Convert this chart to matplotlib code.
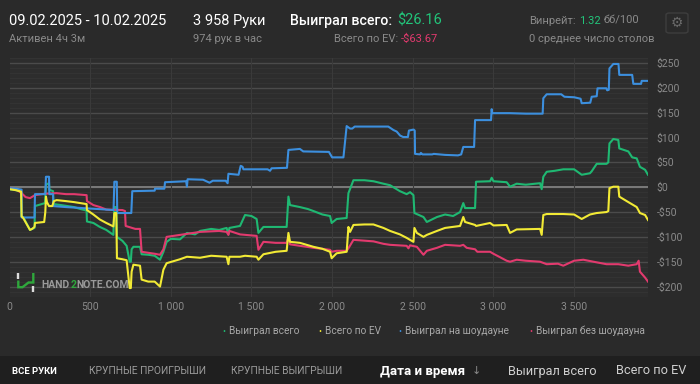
import matplotlib
matplotlib.use("Agg")
from matplotlib import pyplot as plt
from matplotlib.patches import Rectangle, FancyBboxPatch
from matplotlib.lines import Line2D

plt.rcParams['font.family'] = ['Roboto', 'DejaVu Sans']

# --- data (hand number, $) ---
blue_x = [0, 40, 75, 75, 155, 158, 222, 226, 245, 247, 270, 272, 350, 450, 550, 645, 650, 665, 668, 755,
          761, 900, 902, 960, 964, 1095, 1100, 1104, 1200, 1240, 1260, 1340, 1352, 1357, 1420, 1433, 1445, 1450,
          1600, 1615, 1625, 1720, 1729, 1800, 1821, 1980, 2000, 2070, 2090, 2111, 2125, 2140, 2348, 2380, 2400,
          2421, 2440, 2470, 2476, 2505, 2512, 2514, 2545, 2550, 2560, 2620, 2630, 2700, 2780, 2800, 2813, 2880,
          2886, 2985, 2989, 2992, 3100, 3200, 3305, 3309, 3330, 3420, 3440, 3500, 3540, 3547, 3600, 3609, 3640,
          3645, 3700, 3705, 3715, 3719, 3743, 3775, 3780, 3860, 3867, 3915, 3919, 3958]
blue_y = [-2, -3, -5, -61, -61, -14, -14, 21, 21, -14, -14, -38, -40, -42, -44, -46, 11, 11, -52, -52,
          -8, -7, -3, -3, 10, 12, 1, 16, 15, 9, 13, 13, 8, 27, 25, 43, 41, 36,
          36, 33, 38, 39, 75, 77, 72, 71, 60, 60, 123, 118, 118, 122, 122, 115, 112,
          104, 101, 101, 114, 116, 114, 67, 66, 69, 66, 66, 67, 65, 64, 66, 81, 81,
          135, 135, 157, 149, 149, 148, 148, 179, 187, 187, 182, 181, 178, 169, 170, 182, 183,
          199, 199, 195, 196, 239, 248, 248, 226, 226, 208, 208, 214, 214]

green_x = [0, 40, 72, 75, 85, 127, 140, 155, 158, 220, 226, 245, 247, 270, 272, 320, 360, 400, 440, 478,
           480, 520, 560, 600, 644, 650, 662, 666, 700, 726, 745, 752, 757, 768, 809, 819, 860, 900, 933, 954,
           974, 1000, 1057, 1100, 1150, 1181, 1250, 1300, 1346, 1357, 1363, 1429, 1460, 1500, 1532, 1543, 1574,
           1650, 1718, 1729, 1739, 1800, 1850, 1884, 1940, 1987, 1997, 2028, 2090, 2101, 2132, 2200, 2256, 2318,
           2359, 2420, 2462, 2483, 2504, 2510, 2566, 2587, 2650, 2700, 2750, 2793, 2813, 2824, 2886, 2892, 2979,
           2989, 3000, 3082, 3103, 3144, 3200, 3289, 3299, 3309, 3330, 3380, 3433, 3500, 3547, 3598, 3609, 3640,
           3701, 3712, 3719, 3743, 3774, 3780, 3836, 3860, 3888, 3908, 3940, 3958]
green_y = [-4, -6, -9, -59, -60, -86, -84, -82, -38, -32, 5, 8, -5, -8, -34, -36, -38, -40, -44, -47,
           -69, -72, -80, -86, -96, -40, -40, -100, -108, -118, -150, -150, -125, -120, -120, -135, -136, -138, -146, -130,
           -110, -104, -105, -92, -95, -88, -84, -86, -82, -95, -82, -78, -56, -58, -64, -92, -80,
           -80, -80, -19, -36, -40, -44, -48, -55, -58, -72, -64, -62, -12, 14, 14, 12, 7,
           4, -8, -14, -10, -16, -52, -60, -70, -60, -55, -58, -50, -32, -42, -42, 11, 12,
           19, 12, 10, 1, 7, 5, 8, -4, 21, 31, 33, 36, 36, 25, 28, 32, 47,
           47, 50, 88, 97, 95, 78, 72, 60, 58, 41, 35, 25]

yellow_x = [0, 40, 72, 75, 85, 127, 140, 155, 158, 215, 222, 226, 232, 245, 265, 275, 292, 350, 400, 478,
            480, 520, 560, 600, 644, 650, 662, 666, 700, 726, 745, 752, 757, 768, 809, 819, 860, 900, 933, 954,
            974, 1057, 1100, 1181, 1250, 1346, 1357, 1363, 1429, 1460, 1532, 1543, 1574, 1650, 1718, 1729, 1739,
            1800, 1884, 1940, 1987, 1997, 2028, 2090, 2101, 2111, 2132, 2200, 2256, 2318, 2359, 2420, 2462, 2483,
            2504, 2510, 2525, 2566, 2587, 2650, 2700, 2793, 2813, 2824, 2886, 2892, 2979, 3000, 3082, 3103, 3144,
            3289, 3299, 3309, 3330, 3433, 3500, 3547, 3598, 3640, 3701, 3712, 3719, 3743, 3774, 3780, 3836, 3888,
            3908, 3940, 3958]
yellow_y = [-4, -6, -9, -59, -62, -86, -84, -80, -72, -70, -50, -19, -30, -38, -38, -28, -26, -28, -30, -34,
            -46, -55, -65, -72, -79, -52, -52, -143, -145, -147, -203, -203, -170, -156, -158, -186, -190, -190, -200, -166,
            -153, -145, -140, -142, -138, -140, -155, -140, -140, -138, -140, -146, -135, -130, -128, -92, -110,
            -112, -120, -124, -130, -143, -133, -130, -80, -90, -76, -75, -75, -82, -88, -95, -102, -106,
            -110, -82, -92, -100, -96, -88, -82, -78, -60, -70, -76, -78, -72, -77, -76, -92, -85,
            -84, -96, -56, -54, -54, -55, -64, -55, -52, -50, -48, -2, 1, 1, -19, -30, -40,
            -52, -56, -66]

red_x = [0, 40, 75, 100, 127, 158, 222, 292, 350, 400, 478, 480, 520, 561, 600, 700, 716, 720, 780, 809,
         819, 900, 933, 954, 974, 1057, 1181, 1300, 1346, 1357, 1363, 1429, 1532, 1543, 1574, 1650, 1718, 1729,
         1739, 1800, 1884, 1987, 1997, 2028, 2090, 2101, 2132, 2256, 2318, 2359, 2462, 2473, 2483, 2525, 2566,
         2587, 2650, 2700, 2793, 2813, 2834, 2886, 2900, 2979, 3000, 3082, 3103, 3144, 3200, 3289, 3330, 3400,
         3433, 3500, 3557, 3620, 3701, 3774, 3836, 3888, 3900, 3908, 3940, 3958]
red_y = [-2, -4, -12, -20, -22, -16, -13, -12, -14, -14, -16, -28, -36, -40, -45, -46, -48, -78, -84, -84,
         -130, -134, -136, -125, -100, -96, -90, -88, -90, -96, -88, -95, -98, -126, -110, -112, -112, -100,
         -115, -118, -122, -126, -130, -128, -128, -123, -106, -109, -114, -116, -118, -123, -117, -120, -136,
         -128, -122, -116, -118, -116, -122, -125, -130, -130, -134, -148, -150, -146, -148, -150, -155, -154,
         -158, -148, -146, -150, -155, -155, -158, -155, -148, -170, -182, -190]

series_names = ["Выиграл всего", "Всего по EV", "Выиграл на шоудауне", "Выиграл без шоудауна"]
series_colors = ["#1fb872", "#f2ea35", "#3c8fde", "#e23a6e"]

x_ticks = [0, 500, 1000, 1500, 2000, 2500, 3000, 3500]
y_ticks = [-200, -150, -100, -50, 0, 50, 100, 150, 200, 250]

W, H = 700, 384
fig = plt.figure(figsize=(7, 3.84), dpi=100, facecolor="#2a2a2a")


def px(x, y):
    return x / W, 1 - y / H


def fig_line(xs, ys, color):
    fig.lines.append(Line2D([x / W for x in xs], [1 - y / H for y in ys],
                            transform=fig.transFigure, color=color, lw=1.7,
                            solid_capstyle="butt", solid_joinstyle="miter"))


# bottom tab bar
fig.patches.append(Rectangle((0, 0), 1, 1 - 356 / H, transform=fig.transFigure,
                             facecolor="#1f1f1f", edgecolor="none", zorder=0))

ax = fig.add_axes([9.5 / W, 1 - 297 / H, (648 - 9.5) / W, (297 - 58) / H])
ax.set_facecolor("#2d2d2d")
for s in ax.spines.values():
    s.set_visible(False)

ax.set_xlim(0, 3958)
ax.set_ylim(-221, 260)

# grid
for v in range(-220, 261, 10):
    ax.axhline(v, color="#353535", lw=0.6, zorder=1)
for v in y_ticks:
    ax.axhline(v, color="#4b4b4b", lw=1.0, zorder=1)
ax.axhline(0, color="#7a7a7a", lw=1.4, zorder=1)
for v in x_ticks[1:]:
    ax.axvline(v, color="#3a3a3a", lw=0.8, zorder=1)

ax.plot(green_x, green_y, color=series_colors[0], lw=1.5, zorder=3)
ax.plot(red_x, red_y, color=series_colors[3], lw=1.5, zorder=3)
ax.plot(yellow_x, yellow_y, color=series_colors[1], lw=1.5, zorder=4)
ax.plot(blue_x, blue_y, color=series_colors[2], lw=1.5, zorder=3)

ax.yaxis.tick_right()
ax.set_yticks(y_ticks)
ax.set_yticklabels([("-$%d" % -v) if v < 0 else ("$%d" % v) for v in y_ticks])
ax.set_xticks(x_ticks)
ax.set_xticklabels([f"{v:,}".replace(",", " ") for v in x_ticks])
ax.tick_params(axis="both", length=0, colors="#8a8a8a", labelsize=7.5)
ax.tick_params(axis="y", pad=6)
ax.tick_params(axis="x", pad=3.5)

# watermark logo + text
fig_line([18.3, 18.3], [273, 278.5], "#dddddd")
fig_line([33.3, 33.3], [286, 292], "#dddddd")
fig_line([18.3, 18.3, 22.5, 28.5, 33.3, 33.3], [280.5, 287.2, 287.2, 282.5, 282.5, 273], "#2fa83c")
fig.text(*px(41, 285), "HAND", color="#9a9a9a", fontsize=7.5, fontweight="bold", va="center")
fig.text(*px(70.5, 285), "2", color="#2fa83c", fontsize=7.5, fontweight="bold", va="center")
fig.text(*px(76, 285), "NOTE.COM", color="#9a9a9a", fontsize=7.5, fontweight="bold", va="center")

# legend
leg_x = [222, 318, 398, 529]
for lxp, name, c in zip(leg_x, series_names, series_colors):
    fig.text(*px(lxp, 331), "•", color=c, fontsize=6.5, va="center", ha="left")
    fig.text(*px(lxp + 7, 331), name, color="#a8a8a8", fontsize=7.3, va="center", ha="left")

# header
fig.text(*px(9, 21), "09.02.2025 - 10.02.2025", color="#ffffff", fontsize=10.5, va="center")
fig.text(*px(9, 38.5), "Активен 4ч 3м", color="#8a8a8a", fontsize=8, va="center")
fig.text(*px(193, 21), "3 958 Руки", color="#ffffff", fontsize=10.5, va="center")
fig.text(*px(193, 38.5), "974 рук в час", color="#8a8a8a", fontsize=8, va="center")
fig.text(*px(290, 21), "Выиграл всего:", color="#ffffff", fontsize=10.2, fontweight="medium", va="center")
fig.text(*px(397, 21), "$26.16", color="#22c47a", fontsize=10.5, va="center")
fig.text(*px(334, 38.5), "Всего по EV:", color="#8a8a8a", fontsize=8, va="center")
fig.text(*px(401, 38.5), "-$63.67", color="#e23a6e", fontsize=8, va="center")
fig.text(*px(529, 21), "Винрейт:", color="#8a8a8a", fontsize=8, va="center")
fig.text(*px(579, 21), "1.32", color="#22c47a", fontsize=8, va="center")
fig.text(*px(603, 21), "бб/100", color="#8a8a8a", fontsize=8, va="center")
fig.text(*px(529, 38.5), "0 среднее число столов", color="#8a8a8a", fontsize=8, va="center")
fig.patches.append(FancyBboxPatch((666 / W, 1 - 33 / H), 22 / W, 20 / H,
                                  boxstyle="round,pad=0,rounding_size=0.005",
                                  transform=fig.transFigure, facecolor="none",
                                  edgecolor="#3e3e3e", lw=1.0))
fig.text(*px(677, 23), "⚙", color="#6a6a6a", fontsize=10, ha="center", va="center", family="DejaVu Sans")

# tab bar
fig.text(*px(12, 371), "ВСЕ РУКИ", color="#ffffff", fontsize=6.8, fontweight="bold", va="center")
fig.text(*px(89, 371), "КРУПНЫЕ ПРОИГРЫШИ", color="#9a9a9a", fontsize=7.4, va="center")
fig.text(*px(231, 371), "КРУПНЫЕ ВЫИГРЫШИ", color="#9a9a9a", fontsize=7.4, va="center")
fig.text(*px(380, 371), "Дата и время", color="#ffffff", fontsize=9.5, fontweight="bold", va="center")
fig.text(*px(472, 371), "↓", color="#8a8a8a", fontsize=8, va="center", family="DejaVu Sans")
fig.text(*px(508, 371), "Выиграл всего", color="#cfcfcf", fontsize=9.2, va="center")
fig.text(*px(616, 371), "Всего по EV", color="#cfcfcf", fontsize=9.2, va="center")

fig.savefig("out.png", dpi=100, facecolor=fig.get_facecolor())
